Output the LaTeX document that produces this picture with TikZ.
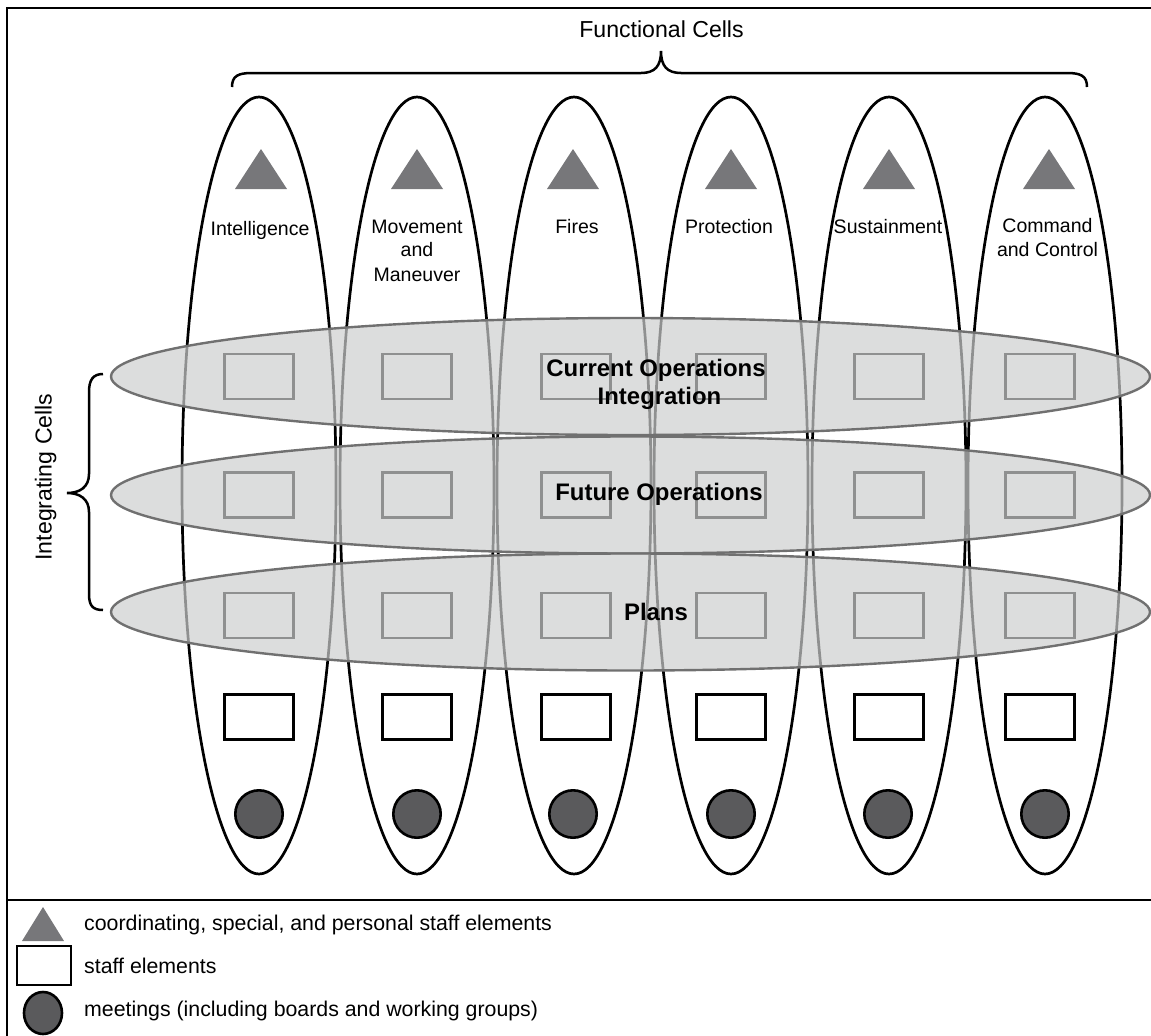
\documentclass[tikz,border=0pt]{standalone}
\usepackage{fontspec}
\setmainfont{Liberation Sans}
\definecolor{bandgray}{RGB}{205,206,206}
\definecolor{trigray}{RGB}{119,119,122}
\definecolor{meetgray}{RGB}{90,90,92}
\begin{document}
\begin{tikzpicture}[x=1bp,y=-1bp,
  cell/.style={draw=black,line width=2.7bp},
  band/.style={draw=black!56,line width=2.4bp,fill=bandgray,fill opacity=0.7},
  staffbox/.style={draw=black,line width=2.4bp},
  meeting/.style={draw=black,line width=2.6bp,fill=meetgray},
  brace/.style={draw=black,line width=2.5bp},
  lbl/.style={font=\fontsize{19.6}{23.8}\selectfont,inner sep=0pt,anchor=base},
  head/.style={font=\fontsize{23.2}{27}\selectfont,inner sep=0pt,anchor=base},
  bandlbl/.style={font=\fontsize{24}{28}\selectfont\bfseries,inner sep=0pt,anchor=base},
  legend/.style={font=\fontsize{21.4}{25}\selectfont,inner sep=0pt,anchor=base west}]
\useasboundingbox (0,0) rectangle (1151,1036);
\clip (0,0) rectangle (1151,1036);

% outer frame and legend separator
\draw[line width=2.8bp] (7,8) rectangle (1170,1060);
\draw[line width=2.8bp] (7,900) -- (1170,900);

% functional cells: columns with triangle, staff elements and meeting
\foreach \cx/\tx/\bx/\mx in {259/261/259/259, 417/417/417/417, 574/573/576/573,
                             731/731/731/731, 889/889/889/888, 1045/1049/1040/1045}{
  \draw[cell] (\cx,485.5) ellipse [x radius=77, y radius=388.5];
  \fill[trigray] (\tx-26,189) -- (\tx,149) -- (\tx+26,189) -- cycle;
  \foreach \ry in {376.5,495,615.5,717}
    \draw[staffbox] (\bx-34.5,\ry-22.5) rectangle (\bx+34.5,\ry+22.5);
  \draw[meeting] (\mx,814) circle [radius=23.7];
}

% functional cell names
\node[lbl] (intel) at (260,235.7) {Intelligence};
\node[lbl] (mm1) at (417,233.3) {Movement};
\node[lbl] (mm2) at (417,256.7) {and};
\node[lbl] (mm3) at (417,281) {Maneuver};
\node[lbl] (fires) at (577,233) {Fires};
\node[lbl] (prot) at (729,233.3) {Protection};
\node[lbl] (sust) at (888,233.3) {Sustainment};
\node[lbl] (cc1) at (1047.5,232.3) {Command};
\node[lbl] (cc2) at (1047.5,256) {and Control};

% integrating cells: translucent bands across the columns
\draw[band] (630.5,376.5) ellipse [x radius=519.5, y radius=58.5];
\draw[band] (630.5,495) ellipse [x radius=519.5, y radius=58.5];
\draw[band] (630.5,612) ellipse [x radius=519.5, y radius=58.5];

\node[bandlbl] (cur1) at (656,376) {Current Operations};
\node[bandlbl] (cur2) at (659.5,404.3) {Integration};
\node[bandlbl] (fut) at (659,500) {Future Operations};
\node[bandlbl] (plans) at (656,620) {Plans};

% top brace
\draw[brace] (232,87) .. controls (232,76) and (238,73) .. (252,73) -- (641,73)
  .. controls (655,73) and (661,66) .. (661,51)
  .. controls (661,66) and (667,73) .. (681,73) -- (1067,73)
  .. controls (1081,73) and (1087,76) .. (1087,87);
\node[head] (func) at (661.5,37.3) {Functional Cells};

% left brace
\draw[brace] (103,374) .. controls (93,374) and (89,380) .. (89,392) -- (89,474)
  .. controls (89,487) and (80,493) .. (67,493)
  .. controls (80,493) and (89,499) .. (89,512) -- (89,594)
  .. controls (89,606) and (93,610) .. (103,610);
\node[head,rotate=90] (integ) at (51.7,477) {Integrating Cells};

% legend
\fill[trigray] (22,941) -- (43,907) -- (64,941) -- cycle;
\draw[staffbox,fill=white] (17,946) rectangle (71,985);
\draw[meeting] (43,1013) ellipse [x radius=19, y radius=21];
\node[legend] (leg1) at (84,930) {coordinating, special, and personal staff elements};
\node[legend] (leg2) at (84,973) {staff elements};
\node[legend] (leg3) at (84,1016) {meetings (including boards and working groups)};
\end{tikzpicture}
\end{document}
